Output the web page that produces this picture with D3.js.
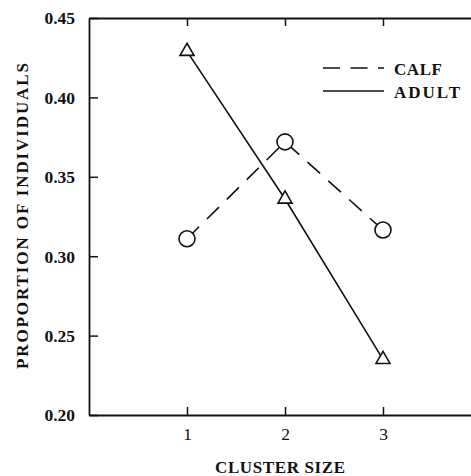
<!DOCTYPE html>
<html><head><meta charset="utf-8">
<script src="https://cdn.jsdelivr.net/npm/d3@7"></script>
<style>
html,body{margin:0;padding:0;background:#fff;}
svg{display:block;}
text{font-family:"Liberation Serif","Times New Roman",serif;fill:#111;}
</style></head>
<body>
<script>
const clusterSizes = [1, 2, 3];
const calfValues = [0.311, 0.372, 0.3165];
const adultValues = [0.429, 0.336, 0.235];
const yTickValues = [0.20, 0.25, 0.30, 0.35, 0.40, 0.45];
const seriesNames = ["CALF", "ADULT"];
const xTitle = "CLUSTER SIZE";
const yTitle = "PROPORTION OF INDIVIDUALS";

const W = 471, H = 476;
const svg = d3.select("body").append("svg").attr("width", W).attr("height", H);

const x = d3.scaleLinear().domain([0, 4]).range([89, 481]);
const y = d3.scaleLinear().domain([0.20, 0.45]).range([415, 18]);

function styleAxis(g){
  g.attr("font-family", null);
  g.select(".domain").attr("stroke", "#111").attr("stroke-width", 1.8);
  g.selectAll(".tick line").attr("stroke", "#111").attr("stroke-width", 1.5);
  g.selectAll(".tick text").attr("font-size", 17.5).attr("font-weight", "bold").attr("fill", "#111");
}

svg.append("g").attr("transform", `translate(${x(0)},0)`)
  .call(d3.axisLeft(y).tickValues(yTickValues).tickSizeInner(-9).tickSizeOuter(0)
    .tickPadding(14).tickFormat(d3.format(".2f")))
  .call(styleAxis)
  .call(g => g.selectAll(".tick text").attr("dy", "0.34em"));

svg.append("g").attr("transform", `translate(0,${y(0.20)})`)
  .call(d3.axisBottom(x).tickValues(clusterSizes).tickSizeInner(-8).tickSizeOuter(0)
    .tickPadding(13).tickFormat(d3.format("d")))
  .call(styleAxis)
  .call(g => g.selectAll(".tick text").attr("font-weight", "normal"));

svg.append("g").attr("transform", `translate(0,${y(0.45)})`)
  .call(d3.axisTop(x).tickValues(clusterSizes).tickSizeInner(-8).tickSizeOuter(0).tickFormat(""))
  .call(styleAxis);

// lines
const line = d3.line().x(d => x(d[0])).y(d => y(d[1]));
const calfPts = clusterSizes.map((c, i) => [c, calfValues[i]]);
const adultPts = clusterSizes.map((c, i) => [c, adultValues[i]]);

svg.append("path").datum(calfPts).attr("d", line)
  .attr("fill", "none").attr("stroke", "#111").attr("stroke-width", 1.6)
  .attr("stroke-dasharray", "17,11");
svg.append("path").datum(adultPts).attr("d", line)
  .attr("fill", "none").attr("stroke", "#111").attr("stroke-width", 1.6);

svg.selectAll("circle.calf").data(calfPts).enter().append("circle")
  .attr("cx", d => x(d[0])).attr("cy", d => y(d[1])).attr("r", 8)
  .attr("fill", "#fff").attr("stroke", "#111").attr("stroke-width", 1.6);

const tri = d3.symbol().type(d3.symbolTriangle).size(85);
svg.selectAll("path.adult").data(adultPts).enter().append("path")
  .attr("d", tri).attr("transform", d => `translate(${x(d[0])},${y(d[1])})`)
  .attr("fill", "#fff").attr("stroke", "#111").attr("stroke-width", 1.6);

// legend
const lg = svg.append("g");
const legY = [68, 91];
lg.append("line").attr("x1", 323).attr("x2", 384).attr("y1", legY[0]).attr("y2", legY[0])
  .attr("stroke", "#111").attr("stroke-width", 1.6).attr("stroke-dasharray", "17,10.5");
lg.append("line").attr("x1", 323).attr("x2", 384).attr("y1", legY[1]).attr("y2", legY[1])
  .attr("stroke", "#111").attr("stroke-width", 1.6);
const legW = [48, 66];
seriesNames.forEach((n, i) => {
  lg.append("text").attr("x", 394).attr("y", legY[i] + 6.5).attr("font-size", 17)
    .attr("font-weight", "bold").attr("textLength", legW[i]).attr("lengthAdjust", "spacing")
    .text(n);
});

// axis titles
svg.append("text").attr("x", 280).attr("y", 473).attr("text-anchor", "middle")
  .attr("font-size", 17).attr("font-weight", "bold")
  .attr("textLength", 130).attr("lengthAdjust", "spacing").text(xTitle);

svg.append("text").attr("transform", "translate(28,216) rotate(-90)").attr("text-anchor", "middle")
  .attr("font-size", 17).attr("font-weight", "bold")
  .attr("textLength", 306).attr("lengthAdjust", "spacing").text(yTitle);
</script>
</body></html>
